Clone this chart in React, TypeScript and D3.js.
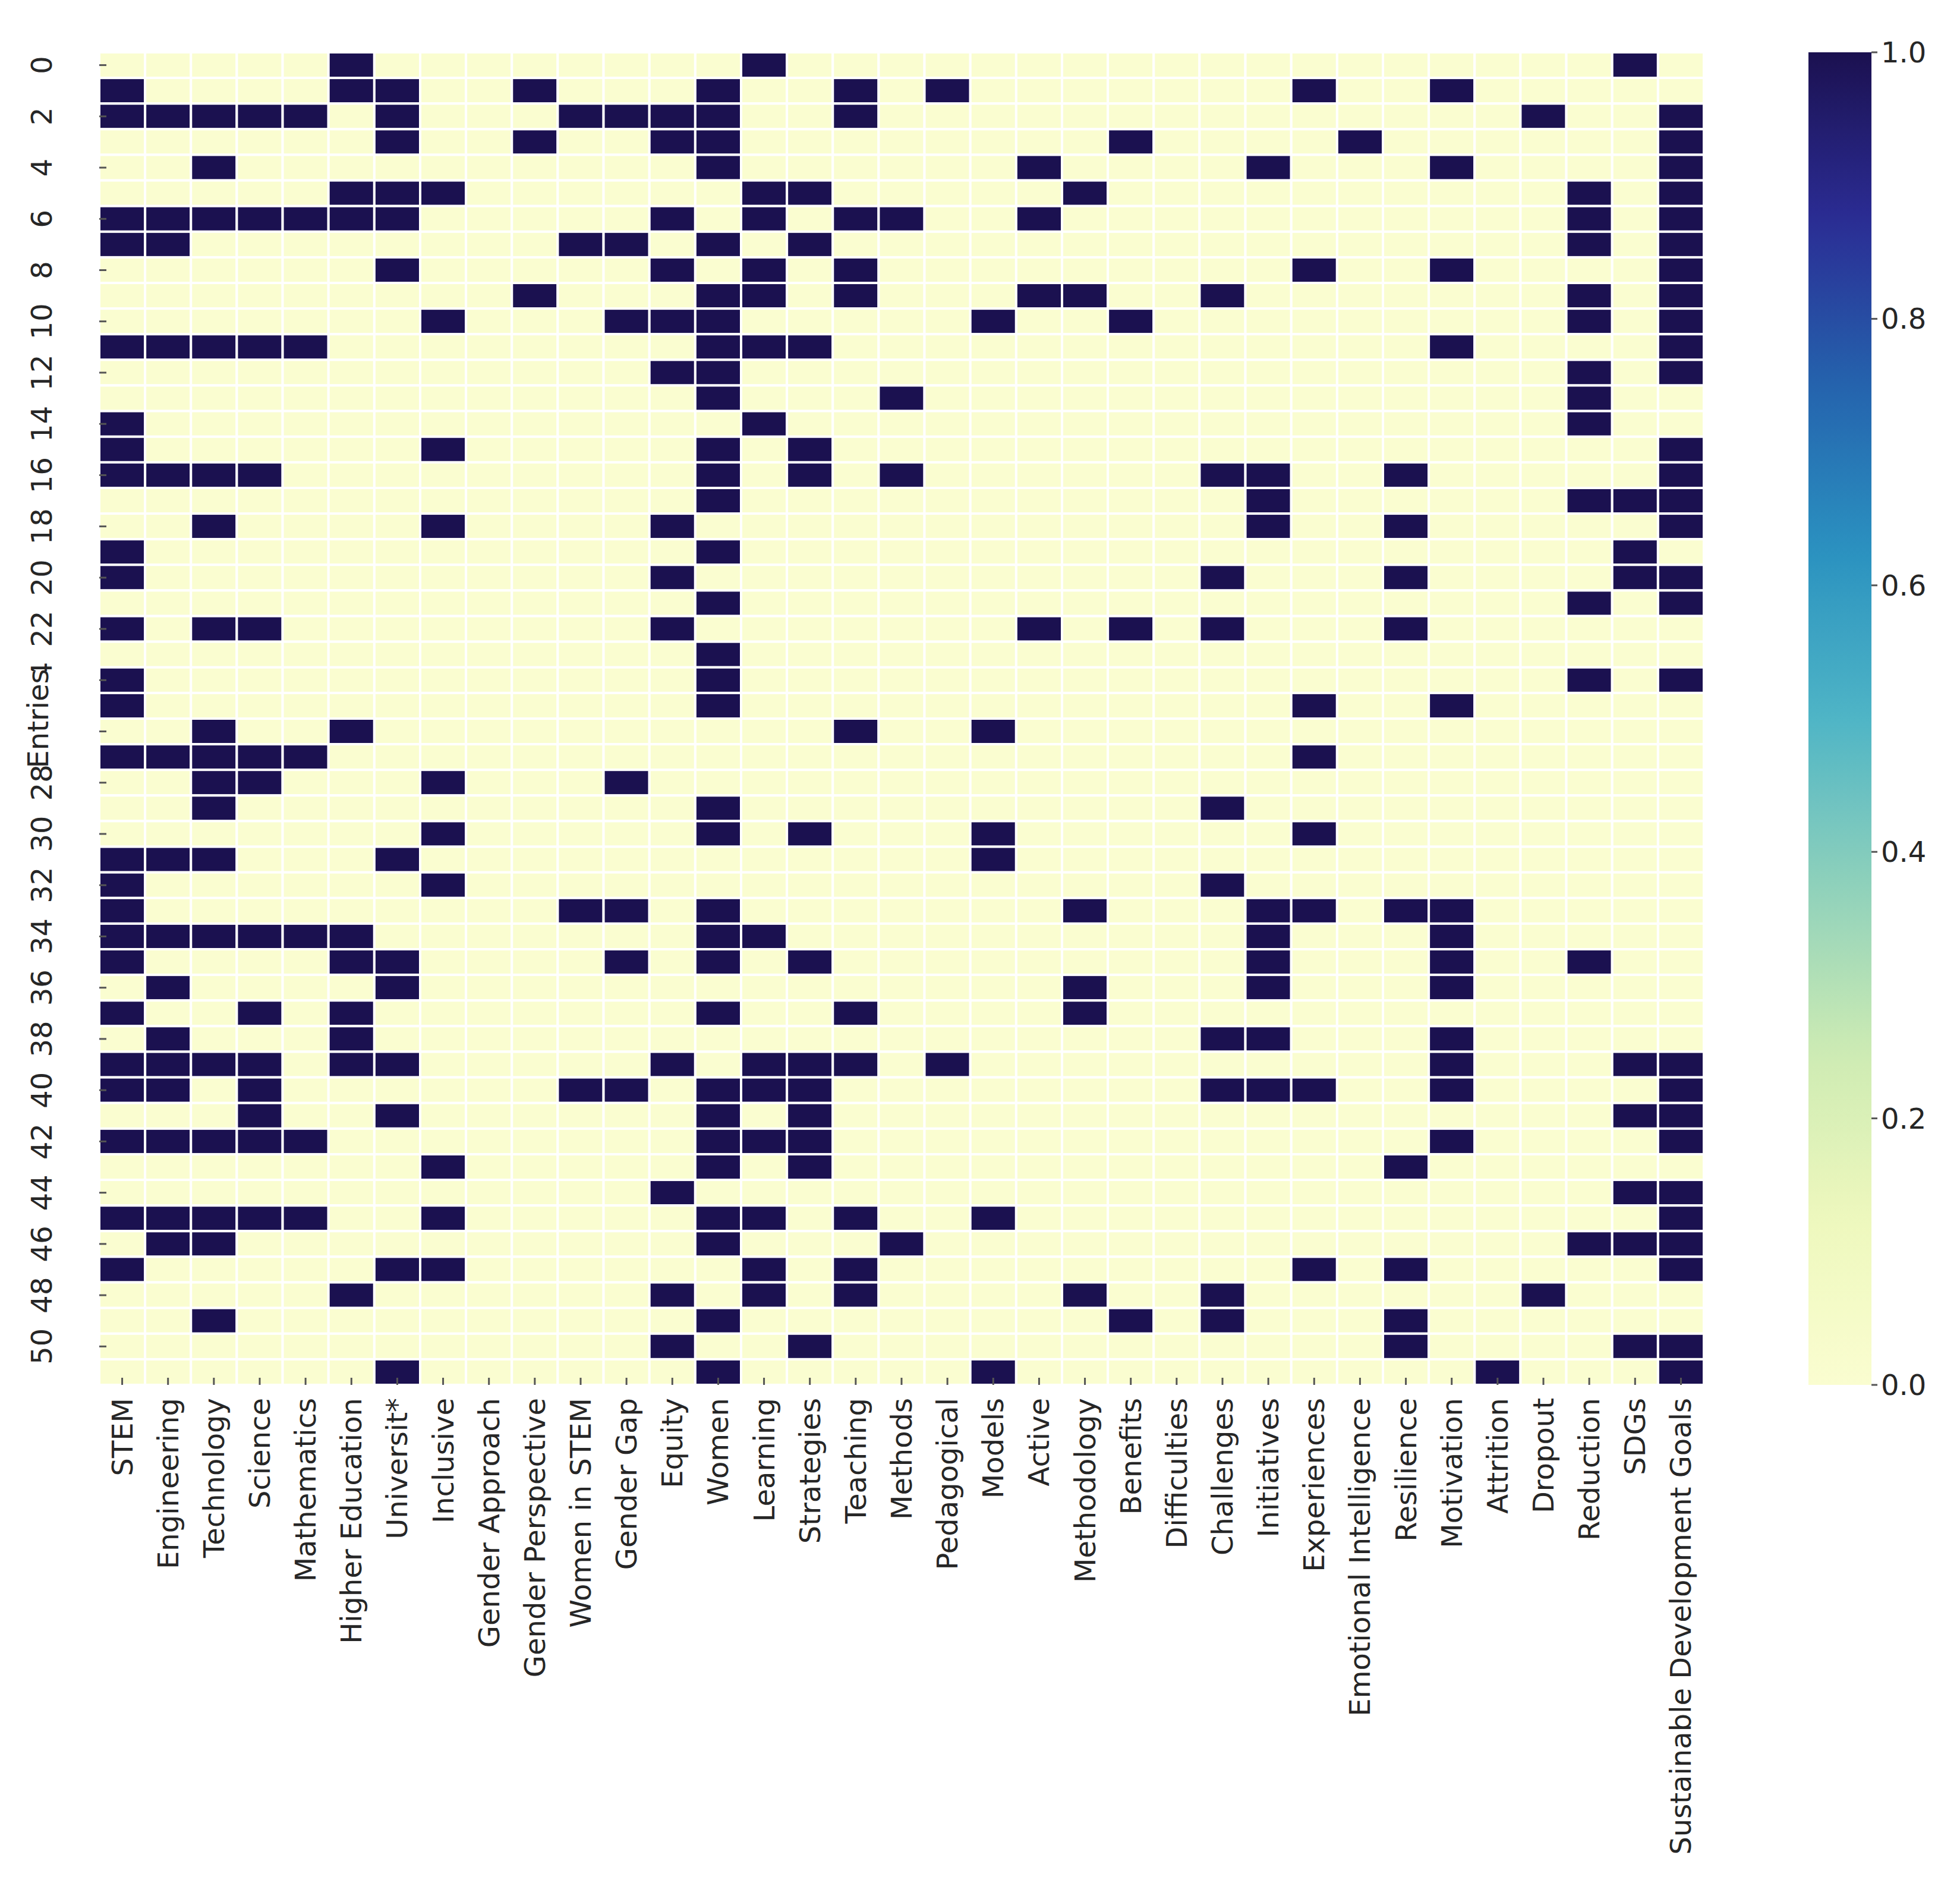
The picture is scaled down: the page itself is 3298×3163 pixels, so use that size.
import React from "react";
import * as d3 from "d3";

const columns = [
  "STEM", "Engineering", "Technology", "Science", "Mathematics",
  "Higher Education", "Universit*", "Inclusive", "Gender Approach", "Gender Perspective",
  "Women in STEM", "Gender Gap", "Equity", "Women", "Learning",
  "Strategies", "Teaching", "Methods", "Pedagogical", "Models",
  "Active", "Methodology", "Benefits", "Difficulties", "Challenges",
  "Initiatives", "Experiences", "Emotional Intelligence", "Resilience", "Motivation",
  "Attrition", "Dropout", "Reduction", "SDGs", "Sustainable Development Goals",
];

// presence matrix: one string per entry (row 0..51), one digit per column, grouped by 5
const presence = [
  "00000 10000 00001 00000 00000 00000 00010",
  "10000 11001 00010 01010 00000 01001 00000",
  "11111 01000 11110 01000 00000 00000 01001",
  "00000 01001 00110 00000 00100 00100 00001",
  "00100 00000 00010 00000 10000 10001 00001",
  "00000 11100 00001 10000 01000 00000 00101",
  "11111 11000 00101 01100 10000 00000 00101",
  "11000 00000 11010 10000 00000 00000 00101",
  "00000 01000 00101 01000 00000 01001 00001",
  "00000 00001 00011 01000 11001 00000 00101",
  "00000 00100 01110 00001 00100 00000 00101",
  "11111 00000 00011 10000 00000 00001 00001",
  "00000 00000 00110 00000 00000 00000 00101",
  "00000 00000 00010 00100 00000 00000 00100",
  "10000 00000 00001 00000 00000 00000 00100",
  "10000 00100 00010 10000 00000 00000 00001",
  "11110 00000 00010 10100 00001 10010 00001",
  "00000 00000 00010 00000 00000 10000 00111",
  "00100 00100 00100 00000 00000 10010 00001",
  "10000 00000 00010 00000 00000 00000 00010",
  "10000 00000 00100 00000 00001 00010 00011",
  "00000 00000 00010 00000 00000 00000 00101",
  "10110 00000 00100 00000 10101 00010 00000",
  "00000 00000 00010 00000 00000 00000 00000",
  "10000 00000 00010 00000 00000 00000 00101",
  "10000 00000 00010 00000 00000 01001 00000",
  "00100 10000 00000 01001 00000 00000 00000",
  "11111 00000 00000 00000 00000 01000 00000",
  "00110 00100 01000 00000 00000 00000 00000",
  "00100 00000 00010 00000 00001 00000 00000",
  "00000 00100 00010 10001 00000 01000 00000",
  "11100 01000 00000 00001 00000 00000 00000",
  "10000 00100 00000 00000 00001 00000 00000",
  "10000 00000 11010 00000 01000 11011 00000",
  "11111 10000 00011 00000 00000 10001 00000",
  "10000 11000 01010 10000 00000 10001 00100",
  "01000 01000 00000 00000 01000 10001 00000",
  "10010 10000 00010 01000 01000 00000 00000",
  "01000 10000 00000 00000 00001 10001 00000",
  "11110 11000 00101 11010 00000 00001 00011",
  "11010 00000 11011 10000 00001 11001 00001",
  "00010 01000 00010 10000 00000 00000 00011",
  "11111 00000 00011 10000 00000 00001 00001",
  "00000 00100 00010 10000 00000 00010 00000",
  "00000 00000 00100 00000 00000 00000 00011",
  "11111 00100 00011 01001 00000 00000 00001",
  "01100 00000 00010 00100 00000 00000 00111",
  "10000 01100 00001 01000 00000 01010 00001",
  "00000 10000 00101 01000 01001 00000 01000",
  "00100 00000 00010 00000 00101 00010 00000",
  "00000 00000 00100 10000 00000 00010 00011",
  "00000 01000 00010 00001 00000 00000 10001",
];

const entryIds = presence.map((_, i) => String(i));
const yTickLabels = ["0","2","4","6","8","10","12","14","16","18","20","22","24","26","28","30","32","34","36","38","40","42","44","46","48","50"];
const colorbarTicks = [0, 0.2, 0.4, 0.6, 0.8, 1.0];
// colour ramp as it appears in the reference (YlGnBu-like, dark end slightly violet)
const rampValues = [0, 0.125, 0.25, 0.375, 0.5, 0.625, 0.75, 0.875, 1];
const rampColors = ["#fafdd0", "#eef8bd", "#cdebb3", "#8fd1bb", "#4fb5c6", "#2b92c0", "#2463ad", "#2b2c94", "#1b1150"];

const W = 3298, H = 3163;
const X0 = 167, X1 = 2867, Y0 = 88, Y1 = 2330;
const CB0 = 3043, CB1 = 3149;
const FONT = "'DejaVu Sans', sans-serif";
const FS = 48;
const TXT = "#262626";

export default function App() {
  const matrix = presence.map((s) => s.replace(/\s+/g, "").split("").map(Number));
  const x = d3.scaleBand<string>().domain(columns).range([X0, X1]);
  const y = d3.scaleBand<string>().domain(entryIds).range([Y0, Y1]);
  const color = d3
    .scaleLinear<string>()
    .domain(rampValues)
    .range(rampColors)
    .interpolate(d3.interpolateRgb)
    .clamp(true);
  const cbScale = d3.scaleLinear().domain([0, 1]).range([Y1, Y0]);
  const stops = d3.range(0, 1.0001, 0.02);

  const cells: JSX.Element[] = [];
  matrix.forEach((row, ri) => {
    row.forEach((v, ci) => {
      cells.push(
        <rect
          key={`${ri}-${ci}`}
          x={x(columns[ci])!}
          y={y(entryIds[ri])!}
          width={x.bandwidth()}
          height={y.bandwidth()}
          fill={color(v)}
          stroke="#ffffff"
          strokeWidth={4}
        />
      );
    });
  });

  const midY = (Y0 + Y1) / 2;

  return (
    <svg
      width={W}
      height={H}
      style={{ position: "absolute", left: 0, top: 0, background: "#fff" }}
      fontFamily={FONT}
    >
      <defs>
        <linearGradient id="cb" x1="0" y1="1" x2="0" y2="0">
          {stops.map((t) => (
            <stop key={t} offset={`${t * 100}%`} stopColor={color(t)} />
          ))}
        </linearGradient>
      </defs>
      <rect x={0} y={0} width={W} height={H} fill="#fff" />
      <g>{cells}</g>
      {/* y ticks */}
      {yTickLabels.map((lab) => {
        const cy = y(lab)! + y.bandwidth() / 2;
        return (
          <g key={`yt${lab}`}>
            <line x1={X0} x2={X0 + 12} y1={cy} y2={cy} stroke="#555" strokeWidth={3} />
            <text
              x={70}
              y={cy}
              transform={`rotate(-90, 70, ${cy})`}
              textAnchor="middle"
              dominantBaseline="central"
              fontSize={FS}
              fill={TXT}
            >
              {lab}
            </text>
          </g>
        );
      })}
      <rect x={38} y={midY - 80} width={52} height={160} fill="#fff" />
      <text
        x={64}
        y={midY}
        transform={`rotate(-90, 64, ${midY})`}
        textAnchor="middle"
        dominantBaseline="central"
        fontSize={FS}
        fill={TXT}
      >
        Entries
      </text>
      {/* x ticks */}
      {columns.map((c) => {
        const cx = x(c)! + x.bandwidth() / 2;
        const ty = Y1 + 22;
        return (
          <g key={`xt${c}`}>
            <line x1={cx} x2={cx} y1={Y1 - 12} y2={Y1} stroke="#555" strokeWidth={3} />
            <text
              x={cx}
              y={ty}
              transform={`rotate(-90, ${cx}, ${ty})`}
              textAnchor="end"
              dominantBaseline="central"
              fontSize={FS}
              fill={TXT}
            >
              {c}
            </text>
          </g>
        );
      })}
      {/* colorbar */}
      <rect x={CB0} y={Y0} width={CB1 - CB0} height={Y1 - Y0} fill="url(#cb)" />
      {colorbarTicks.map((t) => {
        const ty = cbScale(t);
        return (
          <g key={`cb${t}`}>
            <line x1={CB1} x2={CB1 + 10} y1={ty} y2={ty} stroke="#555" strokeWidth={3} />
            <text x={CB1 + 16} y={ty} dominantBaseline="central" fontSize={FS} fill={TXT}>
              {d3.format(".1f")(t)}
            </text>
          </g>
        );
      })}
    </svg>
  );
}
